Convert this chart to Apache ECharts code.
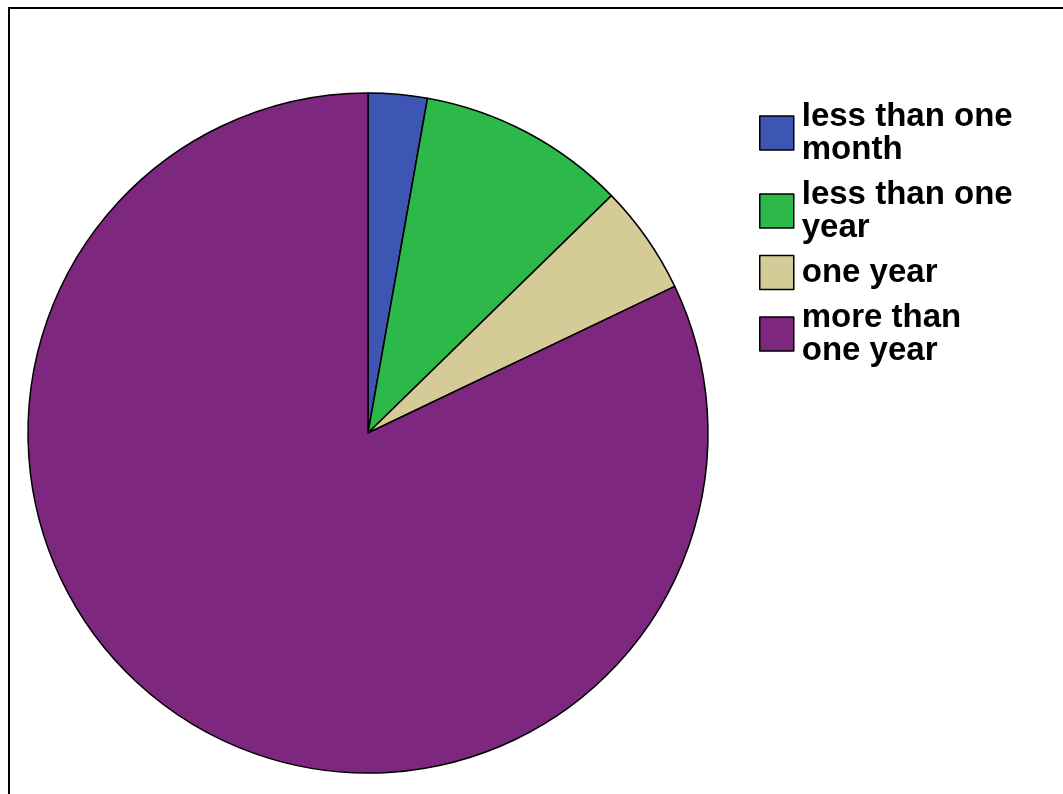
<!DOCTYPE html>
<html>
<head>
<meta charset="utf-8">
<script src="https://cdn.jsdelivr.net/npm/echarts@6/dist/echarts.min.js"></script>
<style>
html,body{margin:0;padding:0;background:#fff;}
#chart{width:1063px;height:794px;}
</style>
</head>
<body>
<div id="chart"></div>
<script>
const categories = ['less than one month', 'less than one year', 'one year', 'more than one year'];
const values = [2.8, 9.9, 5.2, 82.1];
const legendLabels = ['less than one\nmonth', 'less than one\nyear', 'one year', 'more than\none year'];
const colors = ['#3D56B3', '#2DB84A', '#D5CB97', '#7D287E'];

const chart = echarts.init(document.getElementById('chart'), null, {renderer: 'canvas'});
chart.setOption({
  animation: false,
  backgroundColor: '#ffffff',
  color: colors,
  graphic: [{
    type: 'rect',
    shape: {x: 9, y: 8, width: 1200, height: 900},
    style: {fill: 'none', stroke: '#000', lineWidth: 2},
    silent: true,
    z: 0
  }],
  legend: {
    orient: 'vertical',
    left: 759,
    top: 96,
    padding: 0,
    itemWidth: 34,
    itemHeight: 34,
    itemGap: 4,
    icon: 'rect',
    selectedMode: false,
    itemStyle: {borderColor: '#000', borderWidth: 1.5},
    formatter: function (name) { return legendLabels[categories.indexOf(name)]; },
    textStyle: {
      fontFamily: 'Liberation Sans, Arial, sans-serif',
      fontWeight: 'bold',
      fontSize: 33,
      lineHeight: 33,
      color: '#000',
      padding: [8, 0, 0, 3]
    },
    data: categories
  },
  series: [{
    type: 'pie',
    center: [368, 433],
    radius: [0, 340],
    startAngle: 90,
    clockwise: true,
    label: {show: false},
    labelLine: {show: false},
    emphasis: {disabled: true},
    itemStyle: {borderColor: '#000', borderWidth: 1.5},
    data: categories.map((c, i) => ({name: c, value: values[i]}))
  }]
});
</script>
</body>
</html>
